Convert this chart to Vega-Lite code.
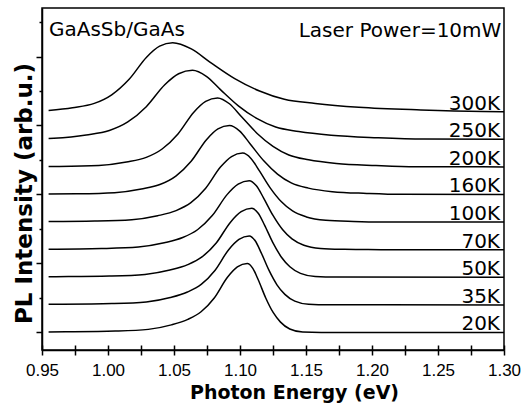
{
  "$schema": "https://vega.github.io/schema/vega-lite/v6.json",
  "width": 462,
  "height": 342,
  "autosize": "none",
  "padding": {"left": 42, "top": 8, "right": 18, "bottom": 61},
  "background": "white",
  "config": {
    "view": {"stroke": "black", "strokeWidth": 1.5},
    "axis": {"domainColor": "black", "tickColor": "black", "domainWidth": 1.5, "tickWidth": 1.5}
  },
  "datasets": {
    "spectra": [
      {"T":"20K","E":0.955,"I":0.007},{"T":"20K","E":0.968,"I":0.009},{"T":"20K","E":1.0055,"I":0.02},{"T":"20K","E":1.0305,"I":0.045},{"T":"20K","E":1.048,"I":0.11},{"T":"20K","E":1.0605,"I":0.19},{"T":"20K","E":1.0705,"I":0.30},{"T":"20K","E":1.0805,"I":0.50},{"T":"20K","E":1.0905,"I":0.80},{"T":"20K","E":1.098,"I":0.95},{"T":"20K","E":1.1055,"I":1.0},{"T":"20K","E":1.1097,"I":0.93},{"T":"20K","E":1.1139,"I":0.76},{"T":"20K","E":1.1195,"I":0.50},{"T":"20K","E":1.1251,"I":0.29},{"T":"20K","E":1.1307,"I":0.15},{"T":"20K","E":1.1377,"I":0.05},{"T":"20K","E":1.1475,"I":0.006},{"T":"20K","E":1.1615,"I":0.0},{"T":"20K","E":1.3,"I":0.0},
      {"T":"35K","E":0.955,"I":0.408},{"T":"35K","E":0.964,"I":0.409},{"T":"35K","E":1.003,"I":0.419},{"T":"35K","E":1.029,"I":0.443},{"T":"35K","E":1.0472,"I":0.507},{"T":"35K","E":1.0602,"I":0.587},{"T":"35K","E":1.0706,"I":0.697},{"T":"35K","E":1.081,"I":0.899},{"T":"35K","E":1.0914,"I":1.2},{"T":"35K","E":1.0992,"I":1.35},{"T":"35K","E":1.107,"I":1.4},{"T":"35K","E":1.1115,"I":1.329},{"T":"35K","E":1.116,"I":1.158},{"T":"35K","E":1.122,"I":0.899},{"T":"35K","E":1.128,"I":0.691},{"T":"35K","E":1.134,"I":0.552},{"T":"35K","E":1.1415,"I":0.454},{"T":"35K","E":1.152,"I":0.409},{"T":"35K","E":1.167,"I":0.401},{"T":"35K","E":1.3,"I":0.4},
      {"T":"50K","E":0.955,"I":0.807},{"T":"50K","E":0.9605,"I":0.808},{"T":"50K","E":1.001,"I":0.818},{"T":"50K","E":1.028,"I":0.842},{"T":"50K","E":1.0469,"I":0.905},{"T":"50K","E":1.0604,"I":0.983},{"T":"50K","E":1.0712,"I":1.095},{"T":"50K","E":1.082,"I":1.297},{"T":"50K","E":1.0928,"I":1.599},{"T":"50K","E":1.1009,"I":1.75},{"T":"50K","E":1.109,"I":1.8},{"T":"50K","E":1.1138,"I":1.728},{"T":"50K","E":1.1186,"I":1.556},{"T":"50K","E":1.125,"I":1.298},{"T":"50K","E":1.1314,"I":1.091},{"T":"50K","E":1.1378,"I":0.953},{"T":"50K","E":1.1458,"I":0.857},{"T":"50K","E":1.157,"I":0.812},{"T":"50K","E":1.173,"I":0.803},{"T":"50K","E":1.3,"I":0.8},
      {"T":"70K","E":0.955,"I":1.207},{"T":"70K","E":0.995,"I":1.217},{"T":"70K","E":1.023,"I":1.239},{"T":"70K","E":1.0426,"I":1.30},{"T":"70K","E":1.0566,"I":1.376},{"T":"70K","E":1.0678,"I":1.489},{"T":"70K","E":1.079,"I":1.694},{"T":"70K","E":1.0902,"I":1.998},{"T":"70K","E":1.0986,"I":2.15},{"T":"70K","E":1.107,"I":2.2},{"T":"70K","E":1.1124,"I":2.126},{"T":"70K","E":1.1178,"I":1.952},{"T":"70K","E":1.125,"I":1.696},{"T":"70K","E":1.1322,"I":1.492},{"T":"70K","E":1.1394,"I":1.356},{"T":"70K","E":1.1484,"I":1.264},{"T":"70K","E":1.161,"I":1.218},{"T":"70K","E":1.179,"I":1.205},{"T":"70K","E":1.197,"I":1.201},{"T":"70K","E":1.3,"I":1.2},
      {"T":"100K","E":0.955,"I":1.607},{"T":"100K","E":0.99,"I":1.614},{"T":"100K","E":1.018,"I":1.634},{"T":"100K","E":1.0376,"I":1.692},{"T":"100K","E":1.0516,"I":1.766},{"T":"100K","E":1.0628,"I":1.881},{"T":"100K","E":1.074,"I":2.09},{"T":"100K","E":1.0852,"I":2.397},{"T":"100K","E":1.0936,"I":2.55},{"T":"100K","E":1.102,"I":2.6},{"T":"100K","E":1.1083,"I":2.523},{"T":"100K","E":1.1146,"I":2.346},{"T":"100K","E":1.123,"I":2.093},{"T":"100K","E":1.1314,"I":1.894},{"T":"100K","E":1.1398,"I":1.761},{"T":"100K","E":1.1503,"I":1.675},{"T":"100K","E":1.165,"I":1.627},{"T":"100K","E":1.186,"I":1.609},{"T":"100K","E":1.207,"I":1.601},{"T":"100K","E":1.3,"I":1.6},
      {"T":"160K","E":0.955,"I":2.007},{"T":"160K","E":0.976,"I":2.01},{"T":"160K","E":1.005,"I":2.026},{"T":"160K","E":1.0253,"I":2.079},{"T":"160K","E":1.0398,"I":2.148},{"T":"160K","E":1.0514,"I":2.267},{"T":"160K","E":1.063,"I":2.482},{"T":"160K","E":1.0746,"I":2.794},{"T":"160K","E":1.0833,"I":2.95},{"T":"160K","E":1.092,"I":3.0},{"T":"160K","E":1.0998,"I":2.918},{"T":"160K","E":1.1076,"I":2.736},{"T":"160K","E":1.118,"I":2.488},{"T":"160K","E":1.1284,"I":2.296},{"T":"160K","E":1.1388,"I":2.168},{"T":"160K","E":1.1518,"I":2.092},{"T":"160K","E":1.17,"I":2.041},{"T":"160K","E":1.196,"I":2.016},{"T":"160K","E":1.222,"I":2.002},{"T":"160K","E":1.3,"I":2.0},
      {"T":"200K","E":0.955,"I":2.406},{"T":"200K","E":0.963,"I":2.407},{"T":"200K","E":0.993,"I":2.421},{"T":"200K","E":1.014,"I":2.471},{"T":"200K","E":1.029,"I":2.538},{"T":"200K","E":1.041,"I":2.659},{"T":"200K","E":1.053,"I":2.878},{"T":"200K","E":1.065,"I":3.193},{"T":"200K","E":1.074,"I":3.35},{"T":"200K","E":1.083,"I":3.4},{"T":"200K","E":1.092,"I":3.315},{"T":"200K","E":1.101,"I":3.13},{"T":"200K","E":1.113,"I":2.885},{"T":"200K","E":1.125,"I":2.698},{"T":"200K","E":1.137,"I":2.573},{"T":"200K","E":1.152,"I":2.503},{"T":"200K","E":1.173,"I":2.45},{"T":"200K","E":1.203,"I":2.42},{"T":"200K","E":1.233,"I":2.402},{"T":"200K","E":1.3,"I":2.4},
      {"T":"250K","E":0.955,"I":2.812},{"T":"250K","E":0.959,"I":2.816},{"T":"250K","E":0.9835,"I":2.863},{"T":"250K","E":1.001,"I":2.927},{"T":"250K","E":1.015,"I":3.051},{"T":"250K","E":1.029,"I":3.273},{"T":"250K","E":1.043,"I":3.591},{"T":"250K","E":1.0535,"I":3.75},{"T":"250K","E":1.064,"I":3.8},{"T":"250K","E":1.0745,"I":3.712},{"T":"250K","E":1.085,"I":3.524},{"T":"250K","E":1.099,"I":3.282},{"T":"250K","E":1.113,"I":3.099},{"T":"250K","E":1.127,"I":2.977},{"T":"250K","E":1.1445,"I":2.913},{"T":"250K","E":1.169,"I":2.859},{"T":"250K","E":1.204,"I":2.823},{"T":"250K","E":1.239,"I":2.803},{"T":"250K","E":1.3,"I":2.8},
      {"T":"300K","E":0.955,"I":3.217},{"T":"300K","E":0.9731,"I":3.258},{"T":"300K","E":0.9896,"I":3.32},{"T":"300K","E":1.0028,"I":3.445},{"T":"300K","E":1.016,"I":3.67},{"T":"300K","E":1.0292,"I":3.99},{"T":"300K","E":1.0391,"I":4.15},{"T":"300K","E":1.049,"I":4.2},{"T":"300K","E":1.0631,"I":4.11},{"T":"300K","E":1.0772,"I":3.92},{"T":"300K","E":1.096,"I":3.68},{"T":"300K","E":1.1148,"I":3.5},{"T":"300K","E":1.1336,"I":3.38},{"T":"300K","E":1.1571,"I":3.32},{"T":"300K","E":1.19,"I":3.265},{"T":"300K","E":1.237,"I":3.226},{"T":"300K","E":1.284,"I":3.203},{"T":"300K","E":1.3,"I":3.2}
    ]
  },
  "layer": [
    {
      "data": {"name": "spectra"},
      "mark": {"type": "line", "color": "black", "strokeWidth": 1.5, "interpolate": "monotone"},
      "encoding": {
        "x": {
          "field": "E", "type": "quantitative",
          "scale": {"domain": [0.95, 1.3], "nice": false, "zero": false},
          "axis": {
            "orient": "bottom",
            "values": [0.95, 0.975, 1.0, 1.025, 1.05, 1.075, 1.1, 1.125, 1.15, 1.175, 1.2, 1.225, 1.25, 1.275, 1.3],
            "labelExpr": "abs(datum.value*20-round(datum.value*20))<0.001 ? format(datum.value,'.2f') : ''",
            "ticks": true,
            "tickSize": 5,
            "grid": true,
            "gridColor": "black",
            "gridWidth": 1.5,
            "gridOpacity": 1,
            "gridDash": [0, 337, 5, 0],
            "labelFlush": false,
            "labelOverlap": false,
            "labelFont": "Liberation Sans, Arial, sans-serif",
            "labelFontSize": 17,
            "labelColor": "black",
            "labelPadding": 7,
            "title": "Photon Energy (eV)",
            "titleFont": "DejaVu Sans",
            "titleFontWeight": "bold",
            "titleFontSize": 19,
            "titleColor": "black",
            "titleX": 252,
            "titleY": 48,
            "titleBaseline": "alphabetic",
            "titleAlign": "center"
          }
        },
        "y": {
          "field": "I", "type": "quantitative",
          "scale": {"domain": [-0.254, 4.703], "nice": false, "zero": false},
          "axis": {
            "orient": "left",
            "values": [0, 0.5, 1, 1.5, 2, 2.5, 3, 3.5, 4, 4.5],
            "labels": false,
            "grid": false,
            "tickSize": {"condition": {"test": "datum.value % 1 == 0", "value": 6}, "value": 3},
            "title": "PL Intensity (arb.u.)",
            "titleFont": "DejaVu Sans",
            "titleFontWeight": "bold",
            "titleFontSize": 23,
            "titleColor": "black",
            "titleX": -11,
            "titleY": 185,
            "titleBaseline": "alphabetic",
            "titleAlign": "center"
          }
        },
        "detail": {"field": "T"}
      }
    },
    {
      "data": {"name": "spectra"},
      "transform": [{"filter": "datum.E == 1.3"}],
      "mark": {"type": "text", "align": "right", "baseline": "alphabetic", "dx": -4, "dy": -2, "font": "DejaVu Sans", "fontSize": 20, "color": "black"},
      "encoding": {
        "x": {"field": "E", "type": "quantitative", "axis": null},
        "y": {"field": "I", "type": "quantitative", "axis": null},
        "text": {"field": "T"}
      }
    },
    {
      "data": {"values": [{"label": "GaAsSb/GaAs"}]},
      "mark": {"type": "text", "align": "left", "baseline": "alphabetic", "font": "DejaVu Sans", "fontSize": 20, "color": "black"},
      "encoding": {
        "x": {"datum": 0.9553, "type": "quantitative", "axis": null},
        "y": {"datum": 4.297, "type": "quantitative", "axis": null},
        "text": {"field": "label"}
      }
    },
    {
      "data": {"values": [{"label": "Laser Power=10mW"}]},
      "mark": {"type": "text", "align": "right", "baseline": "alphabetic", "font": "DejaVu Sans", "fontSize": 20, "color": "black"},
      "encoding": {
        "x": {"datum": 1.298, "type": "quantitative", "axis": null},
        "y": {"datum": 4.278, "type": "quantitative", "axis": null},
        "text": {"field": "label"}
      }
    }
  ],
  "resolve": {"axis": {"x": "independent", "y": "independent"}}
}
